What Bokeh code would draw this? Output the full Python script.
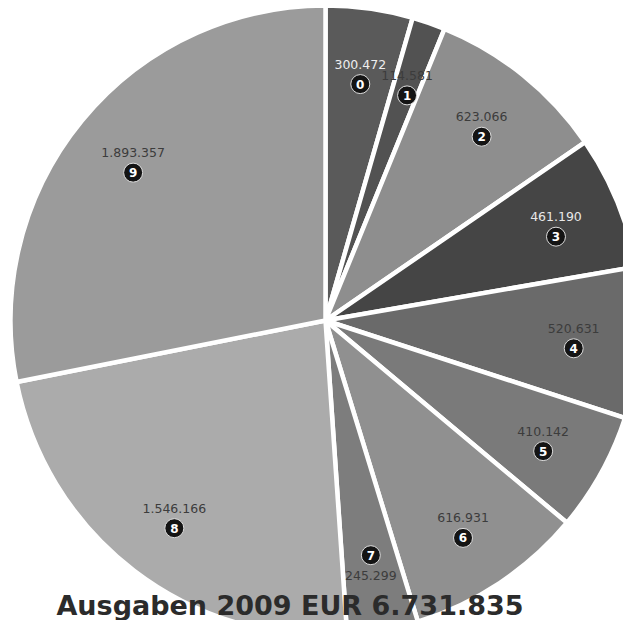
import math
from bokeh.plotting import figure
from bokeh.models import Range1d, ColumnDataSource
from bokeh.embed import file_html
from bokeh.resources import INLINE
from bokeh.core.properties import value

# ---- data ----
slice_ids = ["0", "1", "2", "3", "4", "5", "6", "7", "8", "9"]
amounts = [300472, 114581, 623066, 461190, 520631, 410142, 616931, 245299, 1546166, 1893357]
amount_labels = ["300.472", "114.581", "623.066", "461.190", "520.631",
                 "410.142", "616.931", "245.299", "1.546.166", "1.893.357"]
slice_colors = ["#5a5a5a", "#525252", "#8e8e8e", "#454545", "#6a6a6a",
                "#7a7a7a", "#909090", "#7d7d7d", "#ababab", "#9b9b9b"]
label_colors = ["#eeeeee", "#3c3c3c", "#3c3c3c", "#e8e8e8", "#3c3c3c",
                "#3c3c3c", "#3c3c3c", "#3c3c3c", "#3c3c3c", "#3c3c3c"]
title_text = "Ausgaben 2009 EUR 6.731.835"

# ---- layout ----
W, H = 623, 620
CX, CY = 325, H - 320
R = 315
LABEL_R = 0.79 * R
GAP = 10

total = sum(amounts)
starts, ends, mids = [], [], []
cum = 0
for a in amounts:
    s = math.pi / 2 - 2 * math.pi * cum / total
    cum += a
    e = math.pi / 2 - 2 * math.pi * cum / total
    starts.append(s)
    ends.append(e)
    mids.append((s + e) / 2)

ax = [CX + LABEL_R * math.cos(m) for m in mids]
ay = [CY + LABEL_R * math.sin(m) for m in mids]
# value above number, except for slices pointing straight down
flip = [1 if math.sin(m) > -0.97 else -1 for m in mids]
val_y = [y + GAP * f for y, f in zip(ay, flip)]
num_y = [y - GAP * f for y, f in zip(ay, flip)]

src = ColumnDataSource(dict(
    start=starts, end=ends, color=slice_colors,
    ax=ax, val_y=val_y, num_y=num_y,
    lab=amount_labels, lcol=label_colors, ids=slice_ids,
))

p = figure(width=W, height=H, output_backend="svg", toolbar_location=None,
           x_range=Range1d(0, W), y_range=Range1d(0, H), min_border=0)
p.axis.visible = False
p.grid.visible = False
p.outline_line_color = None
p.background_fill_color = "white"
p.border_fill_color = "white"

p.wedge(x=CX, y=CY, radius=R, start_angle="start", end_angle="end",
        direction="clock", fill_color="color", line_color="white",
        line_width=4.5, source=src)

p.text(x="ax", y="val_y", text="lab", text_color="lcol",
       text_font=value("DejaVu Sans"), text_font_size="12.5px",
       text_align="center", text_baseline="middle", source=src)

p.circle(x="ax", y="num_y", radius=9.5, fill_color="#141414",
         line_color="#dddddd", line_width=1, source=src)
p.text(x="ax", y="num_y", text="ids", text_color="white",
       text_font=value("DejaVu Sans"), text_font_size="12px",
       text_font_style="bold", text_align="center", text_baseline="middle",
       source=src)

p.text(x=[289.5], y=[15], text=[title_text], text_color="#2b2b2b",
       text_font=value("DejaVu Sans"), text_font_size="27px",
       text_font_style="bold", text_align="center", text_baseline="middle")

open("out.html", "w").write(file_html(p, INLINE))
